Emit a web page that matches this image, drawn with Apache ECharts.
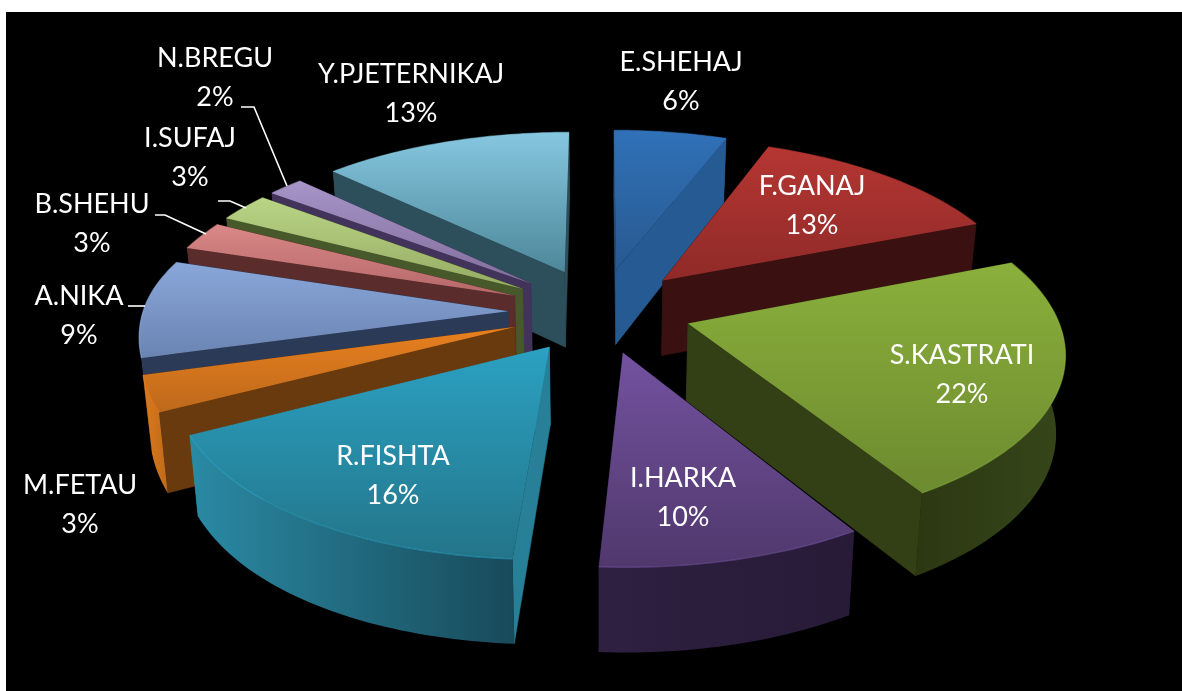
<!DOCTYPE html>
<html>
<head>
<meta charset="utf-8">
<style>html,body{margin:0;padding:0;background:#fff}#c{width:1182px;height:691px}</style>
<script src="https://cdn.jsdelivr.net/npm/echarts@6/dist/echarts.min.js"></script>
</head>
<body>
<div id="c"></div>
<script>
// --- data ---
const categories = ['E.SHEHAJ','F.GANAJ','S.KASTRATI','I.HARKA','R.FISHTA','M.FETAU','A.NIKA','B.SHEHU','I.SUFAJ','N.BREGU','Y.PJETERNIKAJ'];
const values = [5.8,13.2,22.25,9.75,16,3,9,3,3,2,13];

// --- styles: top gradient, start wall, end wall, rim gradient (left to right) ---
const topColors = [['#3071b8','#28598f'],['#b53632','#8f2a28'],['#8bb03c','#6c8a2f'],['#7352a0','#50386c'],['#2ba1c2','#237589'],['#e9801f','#bd691b'],['#8aa7da','#6a84b2'],['#da8787','#b56868'],['#bad586','#95ab63'],['#a794c8','#826f9c'],['#86c7e0','#4d8799']];
const startWall = ['#24527f','#3a1010','#333f14','#2a1e3c','#277f98','#693a0e','#2a3a57','#5a2c2c','#47582a','#42335a','#2d4f5b'];
const endWall   = ['#265a92','#3a1010','#333f14','#2a1e3c','#2b8aa4','#693a0e','#2a3a57','#5a2c2c','#47582a','#42335a','#2d4f5b'];
const rimColors = [['#24527f','#265a92'],['#3a1010','#3a1010'],['#2c3812','#36461a'],['#2e2040','#271b38'],['#2a8aa4','#184a5a'],['#dc7a1e','#bf6a1a'],['#5d78a8','#324565'],['#6e3a3a','#5a2c2c'],['#5f7536','#47582a'],['#5c4a7a','#42335a'],['#2d4f5b','#2d4f5b']];

// --- label layout: centre of each two-line label, in page pixels ---
const labelX = [681,812,962,683,393,80,79,92,190,215,411];
const labelY = [82,206,375,498,476,505,316,224,158,78,94];
const leaderLines = [
  [[128,306],[145,306]],
  [[155,215],[165,215],[206,234]],
  [[218,201],[230,201],[246,208]],
  [[241,107],[254,107],[287,186]]
];

// --- projection parameters ---
const cx = 600, cy = 310, Rx = 367, K = 170, persp = 0.144, explode = 0.25, baseScale = 0.98;
const total = values.reduce((a,b)=>a+b,0);
function deg(p){return p/total*Math.PI*2;}
const starts = []; values.reduce((acc,v,i)=>{starts[i]=acc;return acc+v;},0);

// the source's 3-D pie is not a perfect ellipse on its back-left side
function bump(a,centre,width){const t=(a*180/Math.PI-centre)/width;return Math.exp(-t*t);}

function proj(X,Y,bottom){
  const d = 1+persp*Y;
  let x = Rx*X/d, y = -K*Y/d;
  if(bottom){ x*=baseScale; y += 76.5-7*Y; }
  return [cx+x, cy+y];
}
function slice(i){
  const a0=deg(starts[i]), a1=deg(starts[i]+values[i]), m=(a0+a1)/2;
  const tx=explode*Math.sin(m), ty=explode*Math.cos(m);
  const rim=[], n=Math.max(6,Math.round(values[i]*3));
  for(let k=0;k<=n;k++){
    const a=a0+(a1-a0)*k/n;
    rim.push([tx+Math.sin(a)+0.018*bump(a,290,20), ty+Math.cos(a)+0.065*bump(a,270,30)]);
  }
  return {tx,ty,rim,m};
}
function grad(horizontal,c){return new echarts.graphic.LinearGradient(0,0,horizontal?1:0,horizontal?0:1,[{offset:0,color:c[0]},{offset:1,color:c[1]}]);}
function poly(points,fill){
  return {type:'polygon',shape:{points},style:{fill,stroke:fill,lineWidth:0.5}};
}
function renderSlice(params,api){
  const i=api.value(1), s=slice(i), T=[s.tx,s.ty], r0=s.rim[0], r1=s.rim[s.rim.length-1];
  const wall=(a,b,fill)=>({
    depth:(a[1]+b[1])/2,
    el:poly([proj(a[0],a[1]),proj(b[0],b[1]),proj(b[0],b[1],true),proj(a[0],a[1],true)],fill)
  });
  const mid=s.rim[Math.floor(s.rim.length/2)];
  const arcTop=s.rim.map(p=>proj(p[0],p[1]));
  const walls=[
    wall(T,r0,startWall[i]),
    wall(T,r1,endWall[i]),
    {depth:mid[1],el:{type:'polygon',shape:{points:arcTop.concat(s.rim.slice().reverse().map(p=>proj(p[0],p[1],true)))},style:{fill:grad(true,rimColors[i])}}}
  ];
  walls.sort((a,b)=>b.depth-a.depth);
  const top={type:'polygon',shape:{points:[proj(T[0],T[1])].concat(arcTop)},style:{fill:grad(false,topColors[i])}};
  const edge={type:'polyline',shape:{points:arcTop},style:{stroke:topColors[i][0],opacity:0.55,lineWidth:1.4,fill:null}};
  return {type:'group',children:walls.map(w=>w.el).concat([top,edge])};
}
const order = categories.map((c,i)=>i).sort((a,b)=>slice(b).ty-slice(a).ty);

const chart = echarts.init(document.getElementById('c'),null,{renderer:'canvas'});
chart.setOption({
  animation:false,
  backgroundColor:'#ffffff',
  graphic:[{type:'rect',z:-10,silent:true,shape:{x:6,y:12,width:1176,height:679},style:{fill:'#000'}}],
  series:[
    {type:'custom',coordinateSystem:'none',silent:true,z:2,clip:false,renderItem:renderSlice,
     data:order.map(i=>({name:categories[i],value:[values[i],i]}))},
    {type:'custom',coordinateSystem:'none',silent:true,z:3,clip:false,
     renderItem:(p,api)=>{const pts=leaderLines[p.dataIndex];return {type:'polyline',shape:{points:pts},style:{stroke:'#fff',lineWidth:1.6,fill:null}};},
     data:leaderLines.map((l,i)=>i)},
    {type:'custom',coordinateSystem:'none',silent:true,z:4,clip:false,
     renderItem:(p,api)=>{const i=api.value(1);return {type:'text',x:labelX[i],y:labelY[i],style:{text:categories[i]+'\n'+Math.round(api.value(0)/total*100)+'%',fill:'#fff',font:'27px Lato, "Open Sans", sans-serif',lineHeight:39,align:'center',verticalAlign:'middle'}};},
     data:categories.map((c,i)=>({name:c,value:[values[i],i]}))}
  ]
});
</script>
</body>
</html>
